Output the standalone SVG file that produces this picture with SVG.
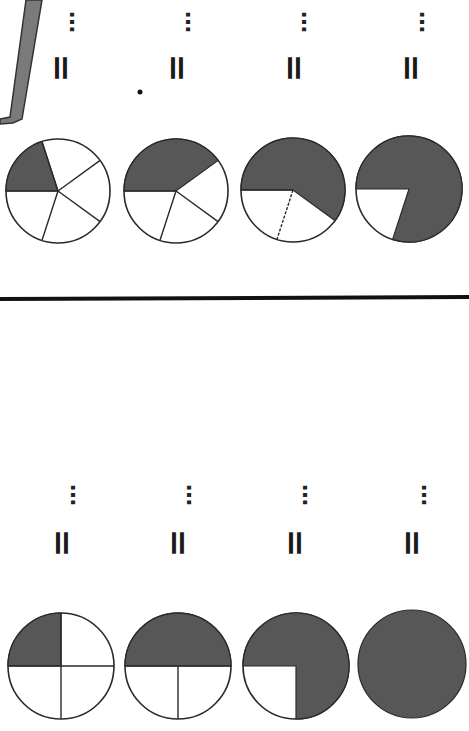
<svg xmlns="http://www.w3.org/2000/svg" width="469" height="731" viewBox="0 0 469 731">
<style>
.bg{fill:#ffffff}
.ring{fill:#ffffff;stroke:#2a2a2a;stroke-width:1.6}
.shade{fill:#575757;stroke:#2a2a2a;stroke-width:1.2}
.spoke{stroke:#2a2a2a;stroke-width:1.4;fill:none}
.dots{font-family:"DejaVu Sans",sans-serif;font-size:22px;font-weight:bold;fill:#222}
.eq{font-family:"DejaVu Sans",sans-serif;font-size:34px;font-weight:bold;fill:#1a1a1a}
</style>
<rect class="bg" x="0" y="0" width="469" height="731"/>

<g id="bracket">
<path d="M26,0 L42,0 L22,119 L13,123 L0,124 L0,119 L10,117 Z" fill="#7a7a7a" stroke="#333" stroke-width="1.5"/>
</g>
<circle cx="140" cy="92" r="2.5" fill="#111"/>

<g id="top-symbols">
<text class="dots" transform="translate(77,22) rotate(90)" text-anchor="middle" dominant-baseline="central">…</text>
<text class="dots" transform="translate(193,22) rotate(90)" text-anchor="middle" dominant-baseline="central">…</text>
<text class="dots" transform="translate(309,22) rotate(90)" text-anchor="middle" dominant-baseline="central">…</text>
<text class="dots" transform="translate(427,22) rotate(90)" text-anchor="middle" dominant-baseline="central">…</text>
<text class="eq" transform="translate(62,68) rotate(90)" text-anchor="middle" dominant-baseline="central">=</text>
<text class="eq" transform="translate(178,68) rotate(90)" text-anchor="middle" dominant-baseline="central">=</text>
<text class="eq" transform="translate(295,68) rotate(90)" text-anchor="middle" dominant-baseline="central">=</text>
<text class="eq" transform="translate(412,68) rotate(90)" text-anchor="middle" dominant-baseline="central">=</text>
</g>

<g id="circle-1-5">
<circle class="ring" cx="58" cy="191" r="52"/>
<path class="shade" d="M58,191 L6,191 A52,52 0 0,1 41.93,141.55 Z"/>
<path class="spoke" d="M58,191 L6,191 M58,191 L41.93,141.55 M58,191 L100.07,160.44 M58,191 L100.07,221.56 M58,191 L41.93,240.45"/>
</g>
<g id="circle-2-5">
<circle class="ring" cx="176" cy="191" r="52"/>
<path class="shade" d="M176,191 L124,191 A52,52 0 0,1 218.07,160.44 Z"/>
<path class="spoke" d="M176,191 L124,191 M176,191 L218.07,221.56 M176,191 L159.93,240.45"/>
</g>
<g id="circle-3-5">
<circle class="ring" cx="293" cy="190" r="52"/>
<path class="shade" d="M293,190 L241,190 A52,52 0 1,1 335.07,220.56 Z"/>
<path class="spoke" d="M293,190 L241,190"/>
<path class="spoke" d="M293,190 L276.93,239.45" stroke-dasharray="3,1.5"/>
</g>
<g id="circle-4-5">
<circle class="ring" cx="409" cy="189" r="53"/>
<path class="shade" d="M409,189 L356,189 A53,53 0 1,1 392.62,239.41 Z"/>
</g>

<g id="divider">
<line x1="0" y1="299" x2="469" y2="297" stroke="#111" stroke-width="4"/>
</g>

<g id="bottom-symbols">
<text class="dots" transform="translate(78,495) rotate(90)" text-anchor="middle" dominant-baseline="central">…</text>
<text class="dots" transform="translate(194,495) rotate(90)" text-anchor="middle" dominant-baseline="central">…</text>
<text class="dots" transform="translate(310,495) rotate(90)" text-anchor="middle" dominant-baseline="central">…</text>
<text class="dots" transform="translate(429,495) rotate(90)" text-anchor="middle" dominant-baseline="central">…</text>
<text class="eq" transform="translate(63,543) rotate(90)" text-anchor="middle" dominant-baseline="central">=</text>
<text class="eq" transform="translate(179,543) rotate(90)" text-anchor="middle" dominant-baseline="central">=</text>
<text class="eq" transform="translate(296,543) rotate(90)" text-anchor="middle" dominant-baseline="central">=</text>
<text class="eq" transform="translate(413,543) rotate(90)" text-anchor="middle" dominant-baseline="central">=</text>
</g>

<g id="circle-1-4">
<circle class="ring" cx="61" cy="666" r="53"/>
<path class="shade" d="M61,666 L8,666 A53,53 0 0,1 61,613 Z"/>
<path class="spoke" d="M8,666 L114,666 M61,613 L61,719"/>
</g>
<g id="circle-2-4">
<circle class="ring" cx="178" cy="666" r="53"/>
<path class="shade" d="M125,666 A53,53 0 0,1 231,666 Z"/>
<path class="spoke" d="M125,666 L231,666 M178,666 L178,719"/>
</g>
<g id="circle-3-4">
<circle class="ring" cx="296" cy="666" r="53"/>
<path class="shade" d="M296,666 L296,719 A53,53 0 1,0 243,666 Z"/>
</g>
<g id="circle-4-4">
<circle class="shade" cx="412" cy="664" r="54"/>
</g>
</svg>
